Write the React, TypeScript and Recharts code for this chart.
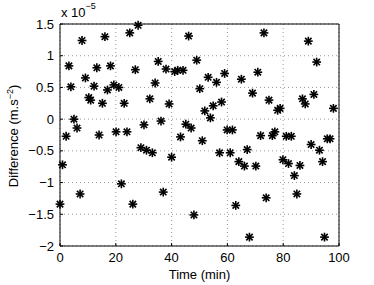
import { ScatterChart, Scatter, XAxis, YAxis, CartesianGrid } from "recharts";

// time in minutes, difference in units of 1e-5 m.s^-2
const times = [
  0, 0.9, 2.2, 3.2, 3.9, 5.0, 6.1, 7.2, 7.9, 9.1, 10.3, 11.0, 12.2, 13.2, 14.0, 15.2, 16.1,
  17.0, 18.1, 19.3, 20.1, 21.1, 22.0, 23.0, 24.0, 25.0, 26.1, 27.0, 28.0, 29.0, 30.1, 31.0,
  32.2, 33.1, 34.1, 35.2, 36.2, 37.0, 38.0, 39.1, 40.0, 41.1, 42.2, 43.2, 44.1, 45.1, 46.1,
  47.0, 48.0, 49.0, 50.1, 51.0, 51.9, 53.1, 53.9, 54.9, 56.1, 57.2, 57.9, 59.0, 59.9, 61.0,
  61.8, 63.0, 64.1, 65.0, 66.1, 67.1, 67.9, 69.0, 70.2, 70.9, 71.9, 73.1, 73.9, 74.9, 76.1,
  77.0, 78.0, 78.9, 79.9, 81.1, 81.9, 82.9, 84.0, 84.9, 86.0, 86.9, 87.9, 89.0, 90.0, 91.0,
  92.0, 93.0, 94.1, 94.8, 95.8, 96.8, 98.0,
];
const diffs = [
  -1.34, -0.72, -0.27, 0.84, 0.51, 0.0, -0.14, -1.18, 1.24, 0.65, 0.34, 0.3, 0.52, 0.81, -0.25,
  0.25, 1.3, 0.46, 0.84, 0.54, -0.2, 0.5, -1.02, 0.25, -0.2, 1.36, -1.34, 0.78, 1.48, -0.45,
  -0.09, -0.49, 0.32, -0.53, 0.57, 0.91, -0.03, -1.15, 0.79, 0.24, -0.6, 0.75, 0.77, -0.28,
  0.77, -0.08, 1.31, -0.14, -1.51, 0.93, 0.48, -0.34, 0.13, 0.66, 0.02, 0.21, 0.58, -0.53,
  0.27, 0.72, -0.17, -0.53, -0.17, -1.36, -0.67, 0.63, -0.74, -0.48, -1.86, 0.41, -0.74, 0.74,
  -0.26, 1.36, -1.24, 0.3, -0.26, -0.2, 0.14, 0.17, -0.64, -0.27, -0.7, -0.27, -0.89, -1.18,
  -0.73, 0.32, 0.24, 1.23, -0.4, 0.39, 0.9, -0.49, -0.67, -1.86, -0.31, -0.31, 0.17,
];
const xTicks = [0, 20, 40, 60, 80, 100];
const yTicks = [-2, -1.5, -1, -0.5, 0, 0.5, 1, 1.5];

const data = times.map((t, i) => ({ t, d: diffs[i] }));

const FONT = "'Liberation Sans', Arial, sans-serif";

const Star = (props: any) => {
  const { cx, cy } = props;
  const r = 4.4;
  const q = 3.2;
  return (
    <g stroke="#000" strokeWidth={1.6}>
      <line x1={cx - r} y1={cy} x2={cx + r} y2={cy} />
      <line x1={cx} y1={cy - r} x2={cx} y2={cy + r} />
      <line x1={cx - q} y1={cy - q} x2={cx + q} y2={cy + q} />
      <line x1={cx - q} y1={cy + q} x2={cx + q} y2={cy - q} />
    </g>
  );
};

const fmtY = (v: number) => (v < 0 ? "\u2212" + String(-v) : String(v));

const YLabel = () => (
  <g fontFamily={FONT} fill="#000">
    <text x={18} y={136} fontSize={13} textAnchor="middle" transform="rotate(-90, 18, 136)">
      Difference (m.s
      <tspan fontSize={9} dy={-5}>
        {"\u22122"}
      </tspan>
      <tspan dy={5}>)</tspan>
    </text>
    <text x={61} y={17} fontSize={13}>
      x 10
      <tspan fontSize={9} dy={-8}>
        {"\u22125"}
      </tspan>
    </text>
  </g>
);

export default function App() {
  return (
    <div style={{ position: "absolute", left: 0, top: 0, background: "#fff" }}>
      <ScatterChart
        width={374}
        height={285}
        margin={{ top: 23, right: 34, bottom: 0, left: 0 }}
      >
        <CartesianGrid
          xAxisId="b"
          yAxisId="l"
          stroke="#9a9a9a"
          strokeDasharray="1 3"
        />
        <XAxis
          xAxisId="b"
          type="number"
          dataKey="t"
          domain={[0, 100]}
          ticks={xTicks}
          height={39}
          stroke="#000"
          tickSize={-3}
          tickMargin={10}
          tick={{ fill: "#000", fontSize: 13, fontFamily: FONT }}
          label={{
            value: "Time (min)",
            position: "insideBottom",
            offset: 6,
            fill: "#000",
            fontSize: 13,
            fontFamily: FONT,
          }}
        />
        <XAxis
          xAxisId="t"
          orientation="top"
          type="number"
          domain={[0, 100]}
          ticks={xTicks}
          height={1}
          stroke="#000"
          tickSize={-3}
          tick={false}
        />
        <YAxis
          yAxisId="l"
          type="number"
          dataKey="d"
          domain={[-2, 1.5]}
          ticks={yTicks}
          width={60}
          stroke="#000"
          tickSize={-3}
          tickMargin={9}
          tickFormatter={fmtY}
          tick={{ fill: "#000", fontSize: 13, fontFamily: FONT }}
          label={<YLabel />}
        />
        <YAxis
          yAxisId="r"
          orientation="right"
          type="number"
          domain={[-2, 1.5]}
          ticks={yTicks}
          width={1}
          stroke="#000"
          tickSize={-3}
          tick={false}
        />
        <Scatter
          xAxisId="b"
          yAxisId="l"
          data={data}
          shape={<Star />}
          isAnimationActive={false}
        />
      </ScatterChart>
    </div>
  );
}
